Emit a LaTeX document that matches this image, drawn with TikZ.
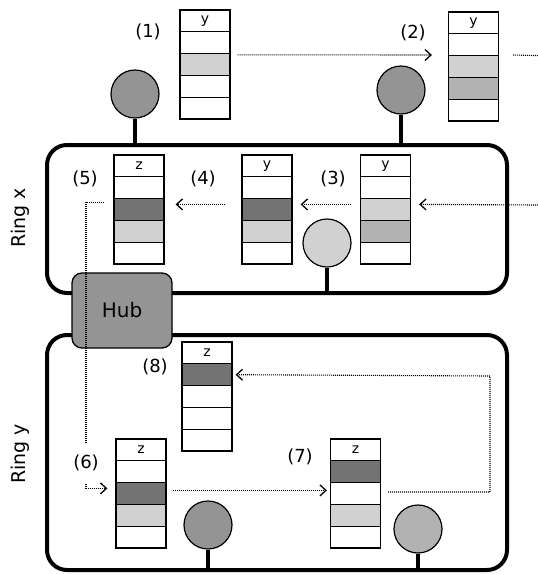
\documentclass[tikz,border=0pt]{standalone}
\usepackage{fontspec}
\setmainfont{DejaVu Sans}
\usepackage{tikz}
\usetikzlibrary{arrows.meta}
\definecolor{darkcell}{gray}{0.45}
\definecolor{midfill}{gray}{0.58}
\definecolor{midlight}{gray}{0.7}
\definecolor{lightcell}{gray}{0.82}

\begin{document}
\begin{tikzpicture}[x=1pt,y=-1pt,every node/.style={inner sep=0pt},
	cell/.style={draw,line width=1.2pt,minimum width=50pt,minimum height=21.8pt,font=\fontsize{14}{16}\selectfont},
	station/.style={draw,circle,line width=1.2pt,minimum size=48pt},
	ring/.style={draw,line width=4pt,rounded corners=20pt},
	stem/.style={line width=3.5pt},
	dots/.style={dash pattern=on 1pt off 1pt,line width=1.1pt},
	flow/.style={dots,-{Straight Barb[length=6pt,width=11pt,line width=1.3pt]}},
	tag/.style={font=\fontsize{18}{20}\selectfont}]
\useasboundingbox (0,0) rectangle (538,574);
\def\ch{21.8}

%rings
\node[ring,minimum width=460pt,minimum height=148pt] (ringx) at (277,219) {};
\node[ring,minimum width=460pt,minimum height=235pt] (ringy) at (277,452.5) {};
\node[draw,line width=1.3pt,fill=midfill,rounded corners=10pt,minimum width=100pt,minimum height=75pt,font=\fontsize{20}{22}\selectfont] (hub) at (122,310.5) {Hub};
\node[rotate=90,font=\fontsize{19}{21}\selectfont] (rx) at (20,218) {Ring x};
\node[rotate=90,font=\fontsize{19}{21}\selectfont] (ry) at (20,454) {Ring y};

%stations
\foreach \p/\px/\py/\pf/\r in {1/135/94/midfill/ringx.north,2/401/90/midfill/ringx.north,3/327/243/lightcell/ringx.south,6/208/525/midfill/ringy.south,7/418/529/midlight/ringy.south}
	{\node[station,fill=\pf] (p\p) at (\px,\py) {};
	\draw[stem] (p\p) -- (p\p |- \r);}

%stacks
\foreach \s/\cx/\top/\lab/\fb/\fc/\fd in {1/205/10/y/white/lightcell/white,2/473.5/12/y/white/lightcell/midlight,3/385.5/155/y/white/lightcell/midlight,4/267/155/y/white/darkcell/lightcell,5/139/155/z/white/darkcell/lightcell,8/207/342/z/darkcell/white/white,6/141/439/z/white/darkcell/lightcell,7/355.5/439/z/darkcell/white/lightcell}
	{\node[cell,fill=white] (s\s-1) at (\cx,\top+0.5*\ch) {\lab};
	\foreach \k/\f in {2/\fb,3/\fc,4/\fd,5/white}
		\node[cell,fill=\f] (s\s-\k) at (\cx,\top+\k*\ch-0.5*\ch) {};}

%tags
\node[tag] (t1) at (148,32) {(1)};
\node[tag] (t2) at (413,33) {(2)};
\node[tag] (t3) at (333,179) {(3)};
\node[tag] (t4) at (203,179) {(4)};
\node[tag] (t5) at (85,179) {(5)};
\node[tag] (t6) at (86,463) {(6)};
\node[tag] (t7) at (300,457) {(7)};
\node[tag] (t8) at (155,367) {(8)};

%flows
\coordinate (eastout) at (538,55.6);
\coordinate (eastin) at (538,205);
\coordinate (v5) at (86,443);
\coordinate (v6) at (86,484);
\coordinate (loopy) at (490,376);
\draw[flow] ([shift={(7,1.8)}]s1-3.north east) -- ([shift={(-16,0)}]s2-3.north west);
\draw[dots] ([shift={(14,0)}]s2-3.north east) -- (eastout);
\draw[flow] (eastin) -- ([shift={(8,6.4)}]s3-3.north east);
\draw[flow] ([shift={(-9,6.4)}]s3-3.north west) -- ([shift={(8,6.4)}]s4-3.north east);
\draw[flow] ([shift={(-16,6.4)}]s4-3.north west) -- ([shift={(11,6.4)}]s5-3.north east);
\draw[dots] ([shift={(-9,4.4)}]s5-3.north west) -| (v5);
\draw[flow] (v6) |- ([shift={(-8,6.4)}]s6-3.north west);
\draw[flow] ([shift={(6,8.4)}]s6-3.north east) -- ([shift={(-3,8.4)}]s7-3.north west);
\draw[flow] ([shift={(7,10)}]s7-3.north east) -| (loopy) -- ([shift={(3,0)}]s8-2.east);
\end{tikzpicture}
\end{document}
